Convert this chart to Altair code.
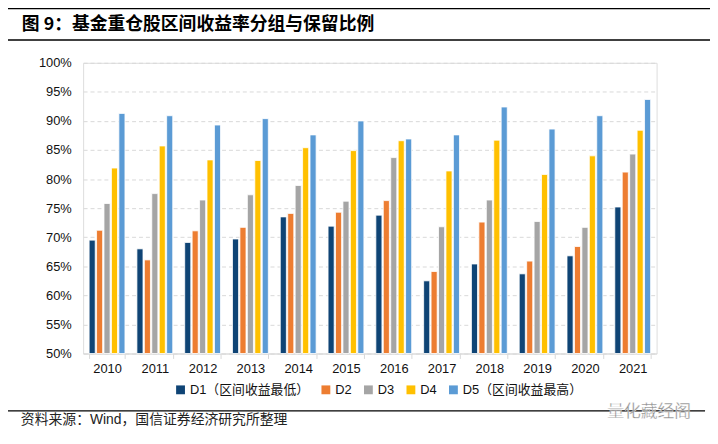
import altair as alt
import pandas as pd

years = ["2010", "2011", "2012", "2013", "2014", "2015", "2016", "2017", "2018", "2019", "2020", "2021"]
series_names = ["D1（区间收益最低）", "D2", "D3", "D4", "D5（区间收益最高）"]
colors = ["#0F4475", "#ED7D31", "#A5A5A5", "#FFC000", "#5B9BD5"]

d1 = [0.695, 0.680, 0.691, 0.697, 0.735, 0.719, 0.738, 0.625, 0.654, 0.637, 0.668, 0.752]
d2 = [0.712, 0.661, 0.711, 0.717, 0.741, 0.743, 0.763, 0.641, 0.726, 0.659, 0.684, 0.812]
d3 = [0.758, 0.775, 0.764, 0.773, 0.789, 0.762, 0.837, 0.718, 0.764, 0.727, 0.717, 0.843]
d4 = [0.819, 0.857, 0.833, 0.832, 0.854, 0.849, 0.866, 0.814, 0.867, 0.808, 0.840, 0.884]
d5 = [0.913, 0.909, 0.893, 0.904, 0.876, 0.900, 0.869, 0.876, 0.924, 0.886, 0.909, 0.937]

y_ticks = [0.50, 0.55, 0.60, 0.65, 0.70, 0.75, 0.80, 0.85, 0.90, 0.95, 1.00]
y_min = 0.5

title_text = "图 9：基金重仓股区间收益率分组与保留比例"
source_text = "资料来源：Wind，国信证券经济研究所整理"
watermark_text = "量化藏经阁"

rows = []
for name, vals in zip(series_names, [d1, d2, d3, d4, d5]):
    for yr, v in zip(years, vals):
        rows.append({"year": yr, "series": name, "value": v})
df = pd.DataFrame(rows)

FONT = "Liberation Sans, Noto Sans CJK SC, sans-serif"
W, H = 580, 294

bars = alt.Chart(df).mark_bar(stroke="white", strokeWidth=0.8).encode(
    x=alt.X("year:N", sort=years, title=None,
            scale=alt.Scale(paddingInner=0.25, paddingOuter=0.125),
            axis=alt.Axis(labelAngle=0, labelFontSize=13, labelColor="#111",
                          labelFont=FONT, domainColor="#D9D9D9", domainWidth=1.2,
                          tickColor="#D9D9D9", tickSize=5, tickBand="extent",
                          labelPadding=4, grid=False)),
    xOffset=alt.XOffset("series:N", sort=series_names,
                        scale=alt.Scale(paddingInner=0.18, paddingOuter=0)),
    y=alt.Y("value:Q", title=None,
            scale=alt.Scale(domain=[0.5, 1.0], nice=False, zero=False),
            axis=alt.Axis(values=y_ticks, format=".0%", labelFontSize=13,
                          labelColor="#111", labelFont=FONT, domain=False, ticks=False,
                          labelPadding=12, gridColor="#D9D9D9", gridDash=[4, 3],
                          gridWidth=1)),
    y2=alt.datum(y_min),
    color=alt.Color("series:N", sort=series_names,
                    scale=alt.Scale(domain=series_names, range=colors),
                    legend=alt.Legend(title=None, orient="none", direction="horizontal",
                                      legendX=92, legendY=324, symbolType="square",
                                      symbolSize=80, symbolStrokeWidth=0,
                                      labelFontSize=13, labelFont=FONT,
                                      labelColor="#111", columnPadding=10,
                                      labelOffset=3, padding=0)),
)

rule_df = pd.DataFrame({"k": [0]})
top_rule = alt.Chart(rule_df).mark_rule(color="black", strokeWidth=1.5).encode(
    x=alt.value(-76), x2=alt.value(634), y=alt.value(-55))
mid_rule = alt.Chart(rule_df).mark_rule(color="black", strokeWidth=1.5).encode(
    x=alt.value(-76), x2=alt.value(634), y=alt.value(-23))
bot_rule = alt.Chart(rule_df).mark_rule(color="black", strokeWidth=1.2).encode(
    x=alt.value(-76), x2=alt.value(629), y=alt.value(352))

title = alt.Chart(pd.DataFrame({"t": [title_text]})).mark_text(
    align="left", baseline="middle", fontSize=18, fontWeight="bold",
    font="Noto Sans CJK SC", color="black").encode(
    x=alt.value(-62), y=alt.value(-38.5), text="t:N")

source = alt.Chart(pd.DataFrame({"t": [source_text]})).mark_text(
    align="left", baseline="middle", fontSize=14,
    font=FONT, color="#222").encode(
    x=alt.value(-63), y=alt.value(361), text="t:N")

watermark = alt.Chart(pd.DataFrame({"t": [watermark_text]})).mark_text(
    align="left", baseline="middle", fontSize=17,
    font="Noto Sans CJK SC", color="#8c8c8c", stroke="white", strokeWidth=0.3).encode(
    x=alt.value(530), y=alt.value(353), text="t:N")

chart = alt.layer(bars, top_rule, mid_rule, bot_rule, title, source, watermark).properties(
    width=W, height=H,
    autosize=alt.AutoSizeParams(type="none"),
    padding={"left": 76, "top": 53, "right": 54, "bottom": 81},
).configure_view(stroke=None).configure(background="white")

chart.save("out.html", embed_options={"renderer": "svg", "actions": False})
